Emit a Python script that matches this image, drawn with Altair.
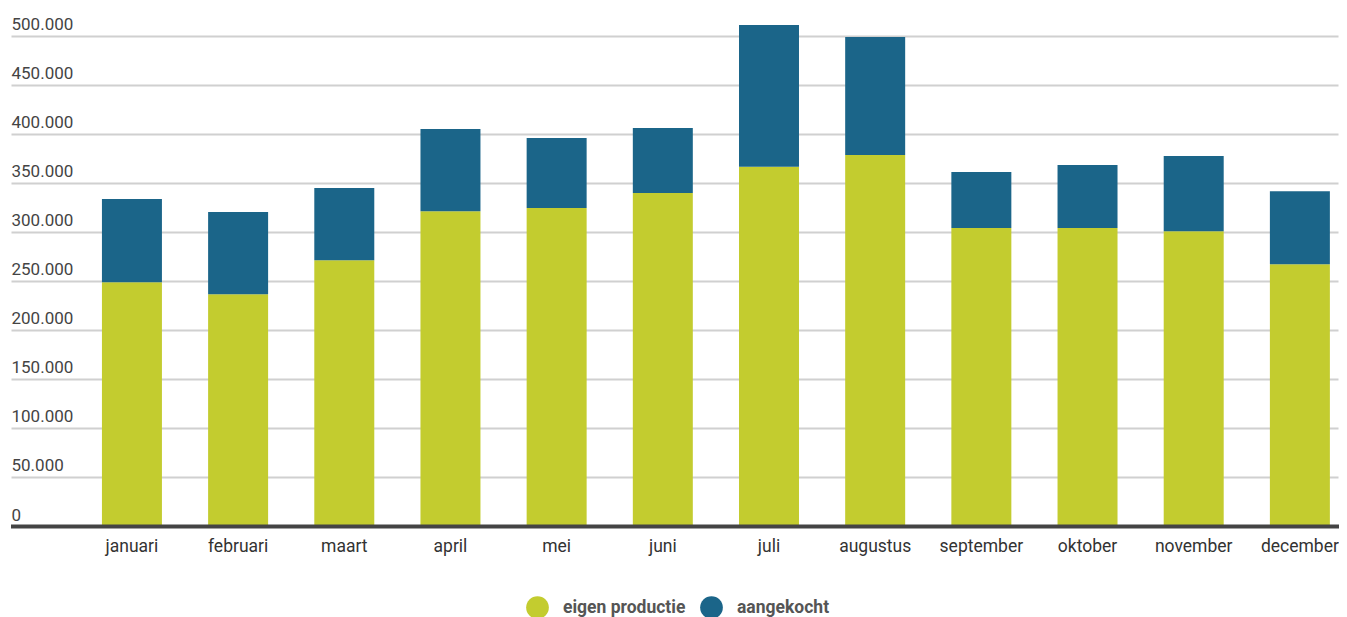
import altair as alt
import pandas as pd

months = ["januari", "februari", "maart", "april", "mei", "juni", "juli",
          "augustus", "september", "oktober", "november", "december"]
eigen_productie = [248700, 236400, 271100, 321100, 324200, 339500, 366300,
                   378300, 303800, 303800, 300700, 267000]
totaal = [333400, 320100, 344600, 404800, 395600, 405800, 510900,
          498700, 360900, 368100, 377200, 341500]
aangekocht = [t - e for t, e in zip(totaal, eigen_productie)]
series = ["eigen productie", "aangekocht"]
colors = ["#c3cc2f", "#1b6589"]
y_ticks = [0, 50000, 100000, 150000, 200000, 250000, 300000, 350000, 400000, 450000, 500000]

rows = []
for m, e, a in zip(months, eigen_productie, aangekocht):
    rows.append({"maand": m, "serie": series[0], "waarde": e, "idx": 0})
    rows.append({"maand": m, "serie": series[1], "waarde": a, "idx": 1})
df = pd.DataFrame(rows)

FONT = "Roboto"
W = 1327

bars = alt.Chart(df).mark_bar().encode(
    x=alt.X("maand:N", sort=months,
            scale=alt.Scale(paddingInner=0.435, paddingOuter=0.4665, align=0.918),
            axis=alt.Axis(title=None, labelAngle=0, domain=False, ticks=False,
                          labelPadding=11, labelFontSize=17.5, labelColor="#333333",
                          labelFont=FONT, grid=False)),
    y=alt.Y("waarde:Q", stack="zero",
            scale=alt.Scale(domain=[0, 515000], nice=False),
            axis=alt.Axis(title=None, values=y_ticks, domain=False, ticks=False,
                          labelAlign="left", labelPadding=0, labelBaseline="alphabetic",
                          labelOffset=-6, labelFontSize=17, labelColor="#444444",
                          labelFont=FONT, gridColor="#d0d0d0", gridWidth=2,
                          labelExpr="replace(format(datum.value, ','), regexp(',', 'g'), '.')")),
    color=alt.Color("serie:N", scale=alt.Scale(domain=series, range=colors),
                    legend=alt.Legend(title=None, orient="none", legendX=515, legendY=575,
                                      direction="horizontal", symbolType="circle",
                                      symbolSize=515, symbolStrokeWidth=0,
                                      labelFontSize=17.5, labelFontWeight="bold",
                                      labelColor="#555555", labelFont=FONT,
                                      labelOffset=14, columnPadding=14, padding=0)),
    order=alt.Order("idx:Q"),
)

baseline = alt.Chart(pd.DataFrame({"v": [0]})).mark_rule(
    color="#444444", strokeWidth=4, yOffset=0.5
).encode(y=alt.Y("v:Q"), x=alt.value(0), x2=alt.value(W + 1))

chart = alt.layer(bars, baseline).properties(
    width=W, height=505,
    autosize=alt.AutoSizeParams(type="none"),
    padding={"left": 3, "top": 13, "right": 1, "bottom": 96},
).configure(font=FONT).configure_view(stroke=None)

chart.save("out.html", embed_options={"renderer": "svg", "actions": False})
